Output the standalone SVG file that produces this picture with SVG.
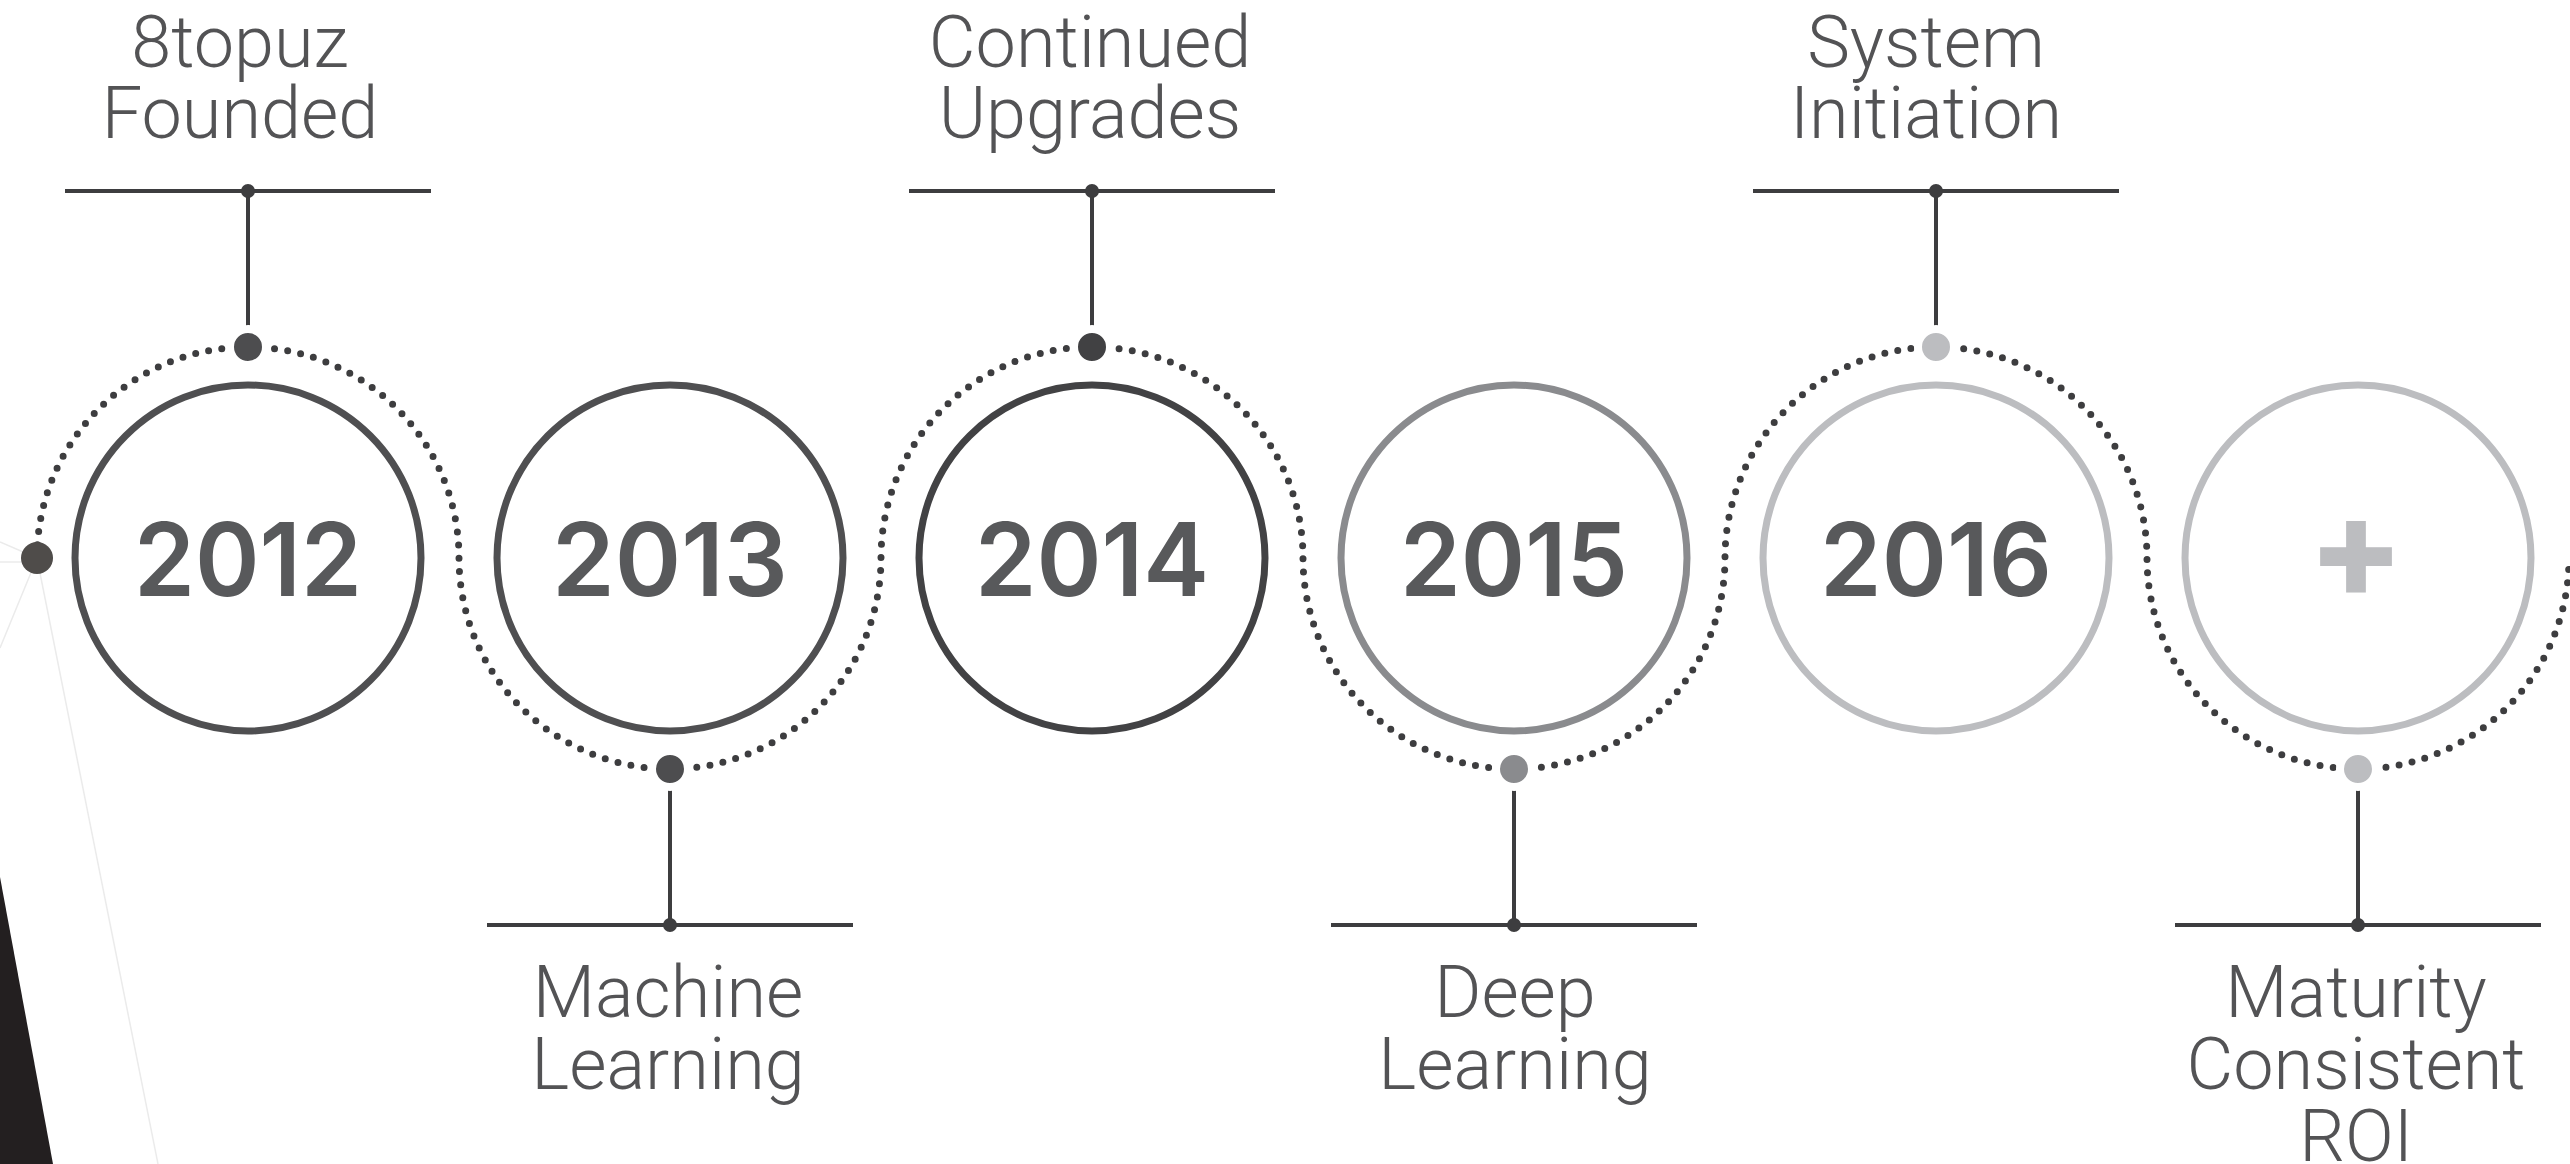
<svg xmlns="http://www.w3.org/2000/svg" width="2570" height="1164" viewBox="0 0 2570 1164">
<style>
.ring{fill:none;stroke-width:7}
.year{font-family:Inter,"Open Sans",sans-serif;font-weight:600;font-size:102px;fill:#58595b;text-anchor:middle}
.lbl{font-family:Roboto,"Liberation Sans",sans-serif;font-weight:300;font-size:72px;fill:#535355;text-anchor:middle}
.stem{stroke:#3d3d3f;stroke-width:4;fill:none}
.jn{fill:#3d3d3f}
.pin{stroke:#ffffff;stroke-width:8}
.dots{fill:none;stroke:#3d3d3f;stroke-width:7;stroke-linecap:round;stroke-dasharray:0 13.258}
.faint{stroke:#ebebeb;stroke-width:1.5;fill:none}
</style>
<rect width="2570" height="1164" fill="#ffffff"/>
<g id="decor">
<polygon points="0,877 53,1164 0,1164" fill="#231f20"/>
<line class="faint" x1="37" y1="558" x2="158" y2="1164"/>
<line class="faint" x1="37" y1="558" x2="0" y2="648"/>
<line class="faint" x1="37" y1="562" x2="0" y2="562"/>
<line class="faint" x1="37" y1="558" x2="0" y2="542"/>
</g>
<g id="connectors">
<path class="dots" d="M37 558 A211 211 0 0 1 459 558 A211 211 0 0 0 881 558 A211 211 0 0 1 1303 558 A211 211 0 0 0 1725 558 A211 211 0 0 1 2147 558 A211 211 0 0 0 2569 558"/>
<circle cx="37" cy="558" r="16" fill="#4f4c4a"/>
<line class="stem" x1="248" y1="347" x2="248" y2="191"/>
<line class="stem" x1="1092" y1="347" x2="1092" y2="191"/>
<line class="stem" x1="1936" y1="347" x2="1936" y2="191"/>
<line class="stem" x1="670" y1="769" x2="670" y2="925"/>
<line class="stem" x1="1514" y1="769" x2="1514" y2="925"/>
<line class="stem" x1="2358" y1="769" x2="2358" y2="925"/>
</g>
<g id="n2012">
<circle class="ring" cx="248" cy="558" r="173" stroke="#4f4f51"/>
<text class="year" x="248" y="596" textLength="228" lengthAdjust="spacingAndGlyphs">2012</text>
<circle class="pin" cx="248" cy="347" r="18" fill="#4d4d4f"/>
<line class="stem" x1="65" y1="191" x2="431" y2="191"/>
<circle class="jn" cx="248" cy="191" r="7"/>
<text class="lbl" x="240" y="67">8topuz</text>
<text class="lbl" x="240" y="138">Founded</text>
</g>
<g id="n2013">
<circle class="ring" cx="670" cy="558" r="173" stroke="#4f4f51"/>
<text class="year" x="670" y="596" textLength="236" lengthAdjust="spacingAndGlyphs">2013</text>
<circle class="pin" cx="670" cy="769" r="18" fill="#4d4d4f"/>
<line class="stem" x1="487" y1="925" x2="853" y2="925"/>
<circle class="jn" cx="670" cy="925" r="7"/>
<text class="lbl" x="668" y="1017">Machine</text>
<text class="lbl" x="668" y="1089">Learning</text>
</g>
<g id="n2014">
<circle class="ring" cx="1092" cy="558" r="173" stroke="#424244"/>
<text class="year" x="1092" y="596" textLength="234" lengthAdjust="spacingAndGlyphs">2014</text>
<circle class="pin" cx="1092" cy="347" r="18" fill="#414143"/>
<line class="stem" x1="909" y1="191" x2="1275" y2="191"/>
<circle class="jn" cx="1092" cy="191" r="7"/>
<text class="lbl" x="1090" y="67">Continued</text>
<text class="lbl" x="1090" y="138">Upgrades</text>
</g>
<g id="n2015">
<circle class="ring" cx="1514" cy="558" r="173" stroke="#8a8b8e"/>
<text class="year" x="1514" y="596" textLength="228" lengthAdjust="spacingAndGlyphs">2015</text>
<circle class="pin" cx="1514" cy="769" r="18" fill="#8a8b8e"/>
<line class="stem" x1="1331" y1="925" x2="1697" y2="925"/>
<circle class="jn" cx="1514" cy="925" r="7"/>
<text class="lbl" x="1515" y="1017">Deep</text>
<text class="lbl" x="1515" y="1089">Learning</text>
</g>
<g id="n2016">
<circle class="ring" cx="1936" cy="558" r="173" stroke="#bcbdc0"/>
<text class="year" x="1936" y="596" textLength="232" lengthAdjust="spacingAndGlyphs">2016</text>
<circle class="pin" cx="1936" cy="347" r="18" fill="#bcbdc0"/>
<line class="stem" x1="1753" y1="191" x2="2119" y2="191"/>
<circle class="jn" cx="1936" cy="191" r="7"/>
<text class="lbl" x="1926" y="67">System</text>
<text class="lbl" x="1926" y="138">Initiation</text>
</g>
<g id="nplus">
<circle class="ring" cx="2358" cy="558" r="173" stroke="#bcbdc0"/>
<text x="2356" y="598" font-family="Inter, sans-serif" font-weight="800" font-size="140" fill="#bcbdc0" text-anchor="middle">+</text>
<circle class="pin" cx="2358" cy="769" r="18" fill="#bcbdc0"/>
<line class="stem" x1="2175" y1="925" x2="2541" y2="925"/>
<circle class="jn" cx="2358" cy="925" r="7"/>
<text class="lbl" x="2356" y="1017">Maturity</text>
<text class="lbl" x="2356" y="1089">Consistent</text>
<text class="lbl" x="2356" y="1161">ROI</text>
</g>
</svg>
